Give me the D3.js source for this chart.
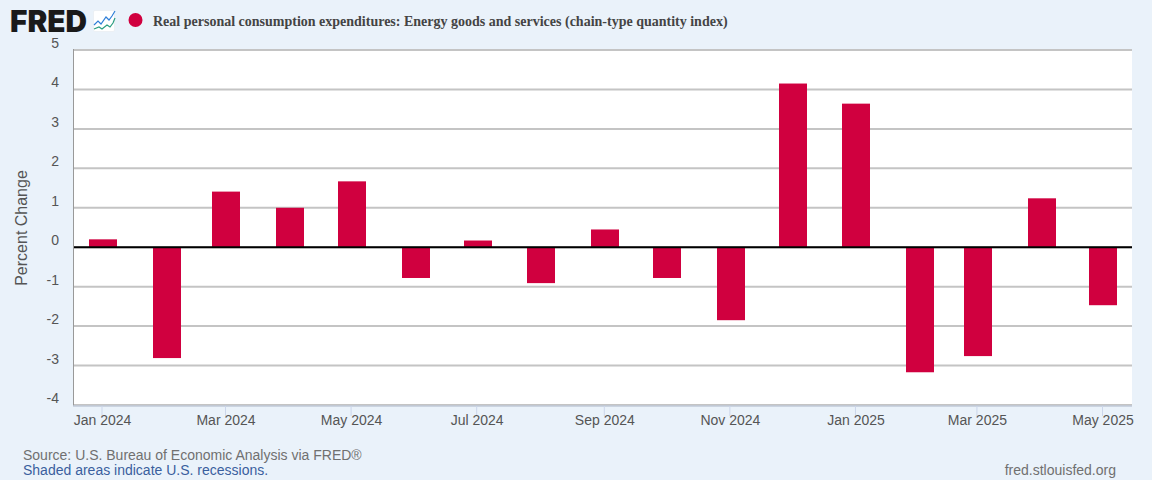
<!DOCTYPE html>
<html><head><meta charset="utf-8">
<script src="https://cdn.jsdelivr.net/npm/d3@7"></script>
<style>
html,body{margin:0;padding:0;background:#eaf2fa;}
svg{display:block;font-family:"Liberation Sans",Arial,sans-serif;}
</style></head><body>
<svg id="c" width="1152" height="480"></svg>
<script>
const months = ["2024-01","2024-02","2024-03","2024-04","2024-05","2024-06","2024-07","2024-08","2024-09","2024-10","2024-11","2024-12","2025-01","2025-02","2025-03","2025-04","2025-05"];
const values = [0.20,-2.81,1.41,1.00,1.67,-0.78,0.17,-0.91,0.45,-0.78,-1.85,4.15,3.64,-3.17,-2.76,1.24,-1.47];
const yTicks = [-4,-3,-2,-1,0,1,2,3,4,5];
const xTickMonths = ["2024-01","2024-03","2024-05","2024-07","2024-09","2024-11","2025-01","2025-03","2025-05"];
const seriesTitle = "Real personal consumption expenditures: Energy goods and services (chain-type quantity index)";
const yTitle = "Percent Change";
const sourceText = "Source: U.S. Bureau of Economic Analysis via FRED®";
const recessionText = "Shaded areas indicate U.S. recessions.";
const siteText = "fred.stlouisfed.org";

const parse = d3.utcParse("%Y-%m");
const fmt = d3.utcFormat("%b %Y");
const svg = d3.select("#c");
const L=73,R=1132,T=50,B=405;
const d0=parse("2024-01"), d1=parse("2025-05");
const pxPerDay=(1102-101.5)/((d1-d0)/864e5);
const x=d3.scaleUtc()
  .domain([new Date(+d0-(101.5-L)/pxPerDay*864e5), new Date(+d1+(R-1102)/pxPerDay*864e5)])
  .range([L,R]);
const y=d3.scaleLinear().domain([-4,5]).range([B,T]);
const red="#d0003f", txt="#555555";

svg.append("rect").attr("x",L).attr("y",T).attr("width",R-L).attr("height",B-T).attr("fill","#fff");

// gridlines
svg.append("g").selectAll("line").data(yTicks).join("line")
  .attr("x1",L).attr("x2",R).attr("y1",d=>y(d)).attr("y2",d=>y(d))
  .attr("stroke","#c4c4c4").attr("stroke-width",2);

// bars
const bw=28, barShift=1.4;
svg.append("g").selectAll("rect").data(months).join("rect")
  .attr("x",d=>Math.round(x(parse(d))+barShift-bw/2)).attr("width",bw)
  .attr("y",(d,i)=>y(Math.max(0,values[i])))
  .attr("height",(d,i)=>Math.abs(y(values[i])-y(0)))
  .attr("fill",red);

// zero line
svg.append("line").attr("x1",L).attr("x2",R).attr("y1",y(0)).attr("y2",y(0)).attr("stroke","#000").attr("stroke-width",2);
// left axis line
svg.append("line").attr("x1",73.5).attr("x2",73.5).attr("y1",T-1).attr("y2",B+1).attr("stroke","#999").attr("stroke-width",1);

// y axis labels
const ya=svg.append("g").attr("transform",`translate(${L},0)`)
  .call(d3.axisLeft(y).tickValues(yTicks).tickSize(0).tickPadding(14).tickFormat(d=>String(d)));
ya.select(".domain").remove();
ya.selectAll("text").attr("fill",txt).attr("font-size",14).attr("font-family","Liberation Sans").attr("dy",-2.5);

// x axis
const xa=svg.append("g").attr("transform",`translate(0,${B+1})`)
  .call(d3.axisBottom(x).tickValues(xTickMonths.map(parse)).tickSize(10).tickPadding(0).tickFormat(fmt));
xa.select(".domain").attr("stroke","#c0cad8").attr("stroke-width",1.5).attr("d",`M${L},0H${R}`);
xa.selectAll("line").attr("stroke","#ccd6eb");
xa.selectAll("text").attr("fill",txt).attr("font-size",14).attr("font-family","Liberation Sans").attr("x",0.5).attr("y",9).attr("dy","0.71em");

// y title
svg.append("text").attr("transform","translate(27,228) rotate(-90)").attr("text-anchor","middle")
  .attr("fill",txt).attr("font-size",16).text(yTitle);

// header
svg.append("text").attr("x",10).attr("y",32).attr("font-family","Inter, Liberation Sans").attr("font-weight",900)
  .attr("font-size",30).attr("textLength",77).attr("lengthAdjust","spacingAndGlyphs").attr("fill","#1a1a1a").text("FRED");
const ic=svg.append("g").attr("transform","translate(93,10)");
ic.append("rect").attr("x",.5).attr("y",.5).attr("width",21).attr("height",21).attr("rx",1.5).attr("fill","#fff").attr("stroke","#e2e6ea").attr("stroke-width",.5);
ic.append("path").attr("d","M1,15L5,11L8,14L13,7L16,10L19,6L22,1").attr("fill","none").attr("stroke","#2f7fd8").attr("stroke-width",1.2);
ic.append("path").attr("d","M1,19L6,17L9,19L14,15L17,17L20,13L22,8").attr("fill","none").attr("stroke","#2a9d80").attr("stroke-width",1.2);
svg.append("circle").attr("cx",135.5).attr("cy",20).attr("r",7).attr("fill",red);
svg.append("text").attr("x",153).attr("y",26).attr("font-family","Liberation Serif").attr("font-weight",700)
  .attr("font-size",14).attr("fill","#444").text(seriesTitle);

// footer
svg.append("text").attr("x",23).attr("y",460).attr("font-size",14).attr("fill","#707070").text(sourceText);
svg.append("text").attr("x",23).attr("y",475).attr("font-size",14).attr("fill","#3a5f9e").text(recessionText);
svg.append("text").attr("x",1116).attr("y",475).attr("text-anchor","end").attr("font-size",14).attr("fill","#707070").text(siteText);
</script>
</body></html>
